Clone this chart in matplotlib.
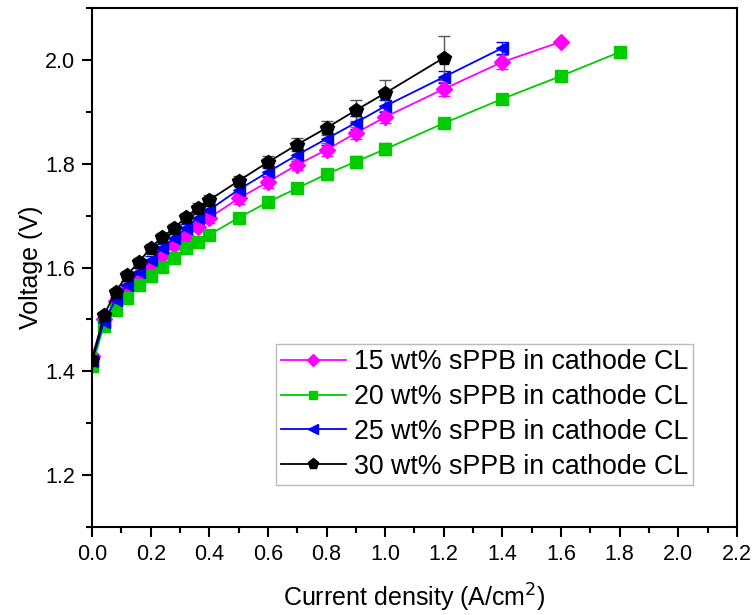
import matplotlib
matplotlib.use("Agg")
import matplotlib.pyplot as plt
from matplotlib.ticker import MultipleLocator

plt.rcParams['font.family'] = ['Liberation Sans', 'DejaVu Sans']

x_all = [0, 0.04, 0.08, 0.12, 0.16, 0.2, 0.24, 0.28, 0.32, 0.36, 0.4,
         0.5, 0.6, 0.7, 0.8, 0.9, 1.0, 1.2, 1.4, 1.6, 1.8]

labels = ["15 wt% sPPB in cathode CL", "20 wt% sPPB in cathode CL",
          "25 wt% sPPB in cathode CL", "30 wt% sPPB in cathode CL"]

v15 = [1.430, 1.500, 1.535, 1.560, 1.585, 1.605, 1.624, 1.644, 1.661, 1.679, 1.696,
       1.733, 1.765, 1.798, 1.827, 1.859, 1.890, 1.944, 1.996, 2.035]
e15 = [0.005, 0.006, 0.006, 0.007, 0.007, 0.008, 0.008, 0.008, 0.009, 0.009, 0.010,
       0.010, 0.011, 0.011, 0.012, 0.012, 0.012, 0.013, 0.013, 0.0]
v20 = [1.410, 1.488, 1.518, 1.541, 1.566, 1.584, 1.601, 1.618, 1.637, 1.650, 1.663,
       1.696, 1.726, 1.753, 1.780, 1.804, 1.828, 1.878, 1.925, 1.969, 2.015]
e20 = [0.004, 0.005, 0.005, 0.006, 0.006, 0.006, 0.007, 0.007, 0.007, 0.008, 0.008,
       0.009, 0.010, 0.010, 0.010, 0.011, 0.011, 0.006, 0.005, 0.004, 0.0]
v25 = [1.420, 1.495, 1.538, 1.567, 1.592, 1.615, 1.638, 1.657, 1.676, 1.696, 1.711,
       1.750, 1.784, 1.817, 1.848, 1.879, 1.911, 1.967, 2.023]
e25 = [0.005, 0.006, 0.006, 0.007, 0.007, 0.007, 0.008, 0.008, 0.008, 0.009, 0.009,
       0.010, 0.010, 0.011, 0.011, 0.012, 0.012, 0.012, 0.012]
v30 = [1.422, 1.508, 1.553, 1.586, 1.611, 1.638, 1.659, 1.676, 1.697, 1.715, 1.730,
       1.767, 1.803, 1.837, 1.869, 1.903, 1.936, 2.004]
e30 = [0.005, 0.006, 0.006, 0.007, 0.007, 0.008, 0.008, 0.008, 0.009, 0.009, 0.010,
       0.010, 0.011, 0.012, 0.014, 0.020, 0.025, 0.043]

series = [
    (v15, e15, '#ff00ff', 'D', 8),
    (v20, e20, '#00cc00', 's', 8),
    (v25, e25, '#0000ff', '<', 9),
    (v30, e30, '#000000', 'p', 10),
]

fig = plt.figure(figsize=(7.55, 6.15), dpi=100)
ax = fig.add_axes([0.122, 0.143, 0.854, 0.844])

handles = []
for (v, e, c, m, ms), lab in zip(series, labels):
    xs = x_all[:len(v)]
    ecol = '#555555' if c == '#000000' else c
    h = ax.errorbar(xs, v, yerr=e, color=c, marker=m, markersize=ms, lw=1.3,
                    ecolor=ecol, elinewidth=1.0, capsize=4, capthick=1.0, label=lab)
    handles.append(h[0])

ax.set_xlim(0, 2.2)
ax.set_ylim(1.1, 2.1)
ax.xaxis.set_minor_locator(MultipleLocator(0.1))
ax.yaxis.set_minor_locator(MultipleLocator(0.1))
ax.set_xticks([0.0, 0.2, 0.4, 0.6, 0.8, 1.0, 1.2, 1.4, 1.6, 1.8, 2.0, 2.2])
ax.set_xticklabels(['0.0', '0.2', '0.4', '0.6', '0.8', '1.0', '1.2', '1.4', '1.6', '1.8', '2.0', '2.2'])
ax.set_yticks([1.2, 1.4, 1.6, 1.8, 2.0])
ax.set_yticklabels(['1.2', '1.4', '1.6', '1.8', '2.0'])

ax.tick_params(which='major', direction='out', length=7, width=1.5, labelsize=15.5, pad=5)
ax.tick_params(which='minor', direction='out', length=4, width=1.5)
for sp in ax.spines.values():
    sp.set_linewidth(1.5)

ax.set_xlabel('Current density (A/cm$^2$)', fontsize=18, labelpad=12)
ax.set_ylabel('Voltage (V)', fontsize=18, labelpad=2)

leg = ax.legend(handles, labels, loc='upper left', bbox_to_anchor=(0.285, 0.353),
                fontsize=19.3, frameon=True, fancybox=False, edgecolor='#aaaaaa',
                handlelength=2.4, handletextpad=0.3, borderpad=0.2, labelspacing=0.33,
                borderaxespad=0, markerscale=0.8)
leg.get_frame().set_linewidth(1.0)

fig.savefig('out.png', dpi=100)
